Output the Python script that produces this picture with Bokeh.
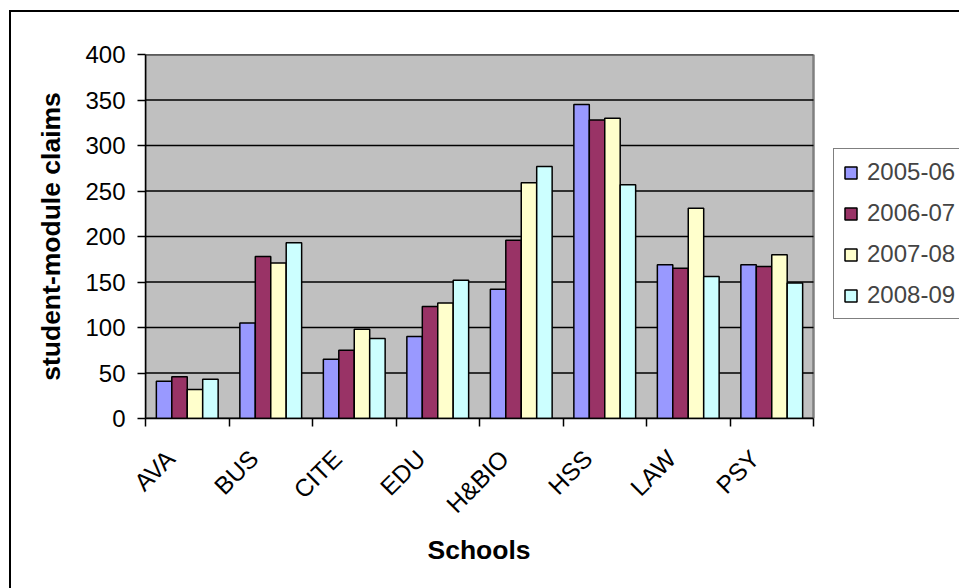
import math
from bokeh.plotting import figure
from bokeh.models import (ColumnDataSource, FixedTicker, Range1d, Legend, LegendItem, Title)
from bokeh.embed import file_html
from bokeh.resources import INLINE

# ---- data ----
schools = ["AVA", "BUS", "CITE", "EDU", "H&BIO", "HSS", "LAW", "PSY"]
years = ["2005-06", "2006-07", "2007-08", "2008-09"]
claims_2005_06 = [41, 105, 65, 90, 142, 345, 169, 169]
claims_2006_07 = [46, 178, 75, 123, 196, 328, 165, 167]
claims_2007_08 = [32, 171, 98, 127, 259, 330, 231, 180]
claims_2008_09 = [43, 193, 88, 152, 277, 257, 156, 149]
y_ticks = [0, 50, 100, 150, 200, 250, 300, 350, 400]

series = [claims_2005_06, claims_2006_07, claims_2007_08, claims_2008_09]
colors = ["#9999FF", "#993366", "#FFFFCC", "#CCFFFF"]
FONT = "Liberation Sans"

n = len(schools)
bar_w = 0.185
ymin, ymax = y_ticks[0], y_ticks[-1]

# canvas geometry (pixels); canvas starts at (11, 12) in the window and runs
# slightly past its right and bottom edges, like the chart's cut-off frame
W, H = 952, 580
B_LEFT, B_TOP, B_BOTTOM = 134, 42, 174
AREA_W = 668                       # width of the grey plotting area
frame_w = W - B_LEFT
x_end = n * frame_w / AREA_W       # frame reaches the right edge (legend lives there)

p = figure(width=W, height=H, output_backend="svg", toolbar_location=None,
           x_range=Range1d(0, x_end), y_range=Range1d(ymin, ymax),
           min_border_left=B_LEFT, min_border_right=0, min_border_top=B_TOP,
           min_border_bottom=B_BOTTOM)
p.margin = (12, 0, 0, 11)
p.styles = {"box-shadow": "-2px -2px 0px 0px black"}
p.background_fill_color = "white"
p.border_fill_color = "white"
p.outline_line_color = None

# grey plotting area and its grid
p.quad(left=[0], right=[n], bottom=[ymin], top=[ymax], fill_color="#C0C0C0",
       line_color="#808080", line_width=2.5)
p.segment(x0=[0] * len(y_ticks), x1=[n] * len(y_ticks), y0=y_ticks, y1=y_ticks,
          line_color="black", line_width=1.5)

items = []
for k, (vals, col, yr) in enumerate(zip(series, colors, years)):
    xs = [i + 0.5 + (k - 1.5) * bar_w for i in range(n)]
    src = ColumnDataSource(dict(x=xs, top=vals))
    r = p.vbar(x="x", top="top", width=bar_w, source=src, fill_color=col,
               line_color="black", line_width=1.5)
    items.append(LegendItem(label=yr, renderers=[r]))

p.xgrid.grid_line_color = None
p.ygrid.grid_line_color = None

# y axis
p.yaxis.ticker = FixedTicker(ticks=y_ticks)
p.yaxis.axis_label = "student-module claims"
p.yaxis.axis_label_text_font = FONT
p.yaxis.axis_label_text_font_style = "bold"
p.yaxis.axis_label_text_font_size = "26.5px"
p.yaxis.axis_label_text_color = "black"
p.yaxis.axis_label_standoff = 16
p.yaxis.major_label_text_font = FONT
p.yaxis.major_label_text_font_size = "24px"
p.yaxis.major_label_text_color = "black"
p.yaxis.major_label_standoff = 12
p.yaxis.major_tick_out = 8
p.yaxis.major_tick_in = 0
p.yaxis.minor_tick_line_color = None
p.yaxis.axis_line_color = "black"
p.yaxis.axis_line_width = 1.5
p.yaxis.major_tick_line_width = 1.5

# x axis: labels near category centres, tick marks at boundaries
centres = [i + 0.3 for i in range(n)]
p.xaxis.ticker = FixedTicker(ticks=centres, minor_ticks=list(range(n + 1)))
p.xaxis.bounds = (0, n)
p.xaxis.major_label_overrides = {c: s for c, s in zip(centres, schools)}
p.xaxis.major_label_orientation = math.pi / 4
p.xaxis.major_label_text_font = FONT
p.xaxis.major_label_text_font_size = "24.5px"
p.xaxis.major_label_text_color = "black"
p.xaxis.major_label_standoff = 28
p.xaxis.major_tick_line_color = None
p.xaxis.minor_tick_out = 8
p.xaxis.minor_tick_in = 0
p.xaxis.minor_tick_line_color = "black"
p.xaxis.minor_tick_line_width = 1.5
p.xaxis.axis_line_color = "black"
p.xaxis.axis_line_width = 1.5

# x axis title, centred under the grey plotting area (text ~103 px wide)
x_title = Title(text="Schools", align="left",
                offset=AREA_W / 2 - 52,
                text_font=FONT, text_font_style="bold", text_font_size="26.5px",
                text_color="black", standoff=4)
p.add_layout(x_title, "below")

legend = Legend(items=items, location=(688, 99), orientation="vertical")
legend.label_text_font = FONT
legend.label_text_font_size = "24px"
legend.glyph_width = 15
legend.glyph_height = 15
legend.label_standoff = 9
legend.padding = 9
legend.spacing = 13
legend.margin = 0
legend.border_line_color = "black"
legend.border_line_width = 1.5
legend.background_fill_color = "white"
legend.background_fill_alpha = 1
p.add_layout(legend)

open("out.html", "w").write(file_html(p, INLINE))
